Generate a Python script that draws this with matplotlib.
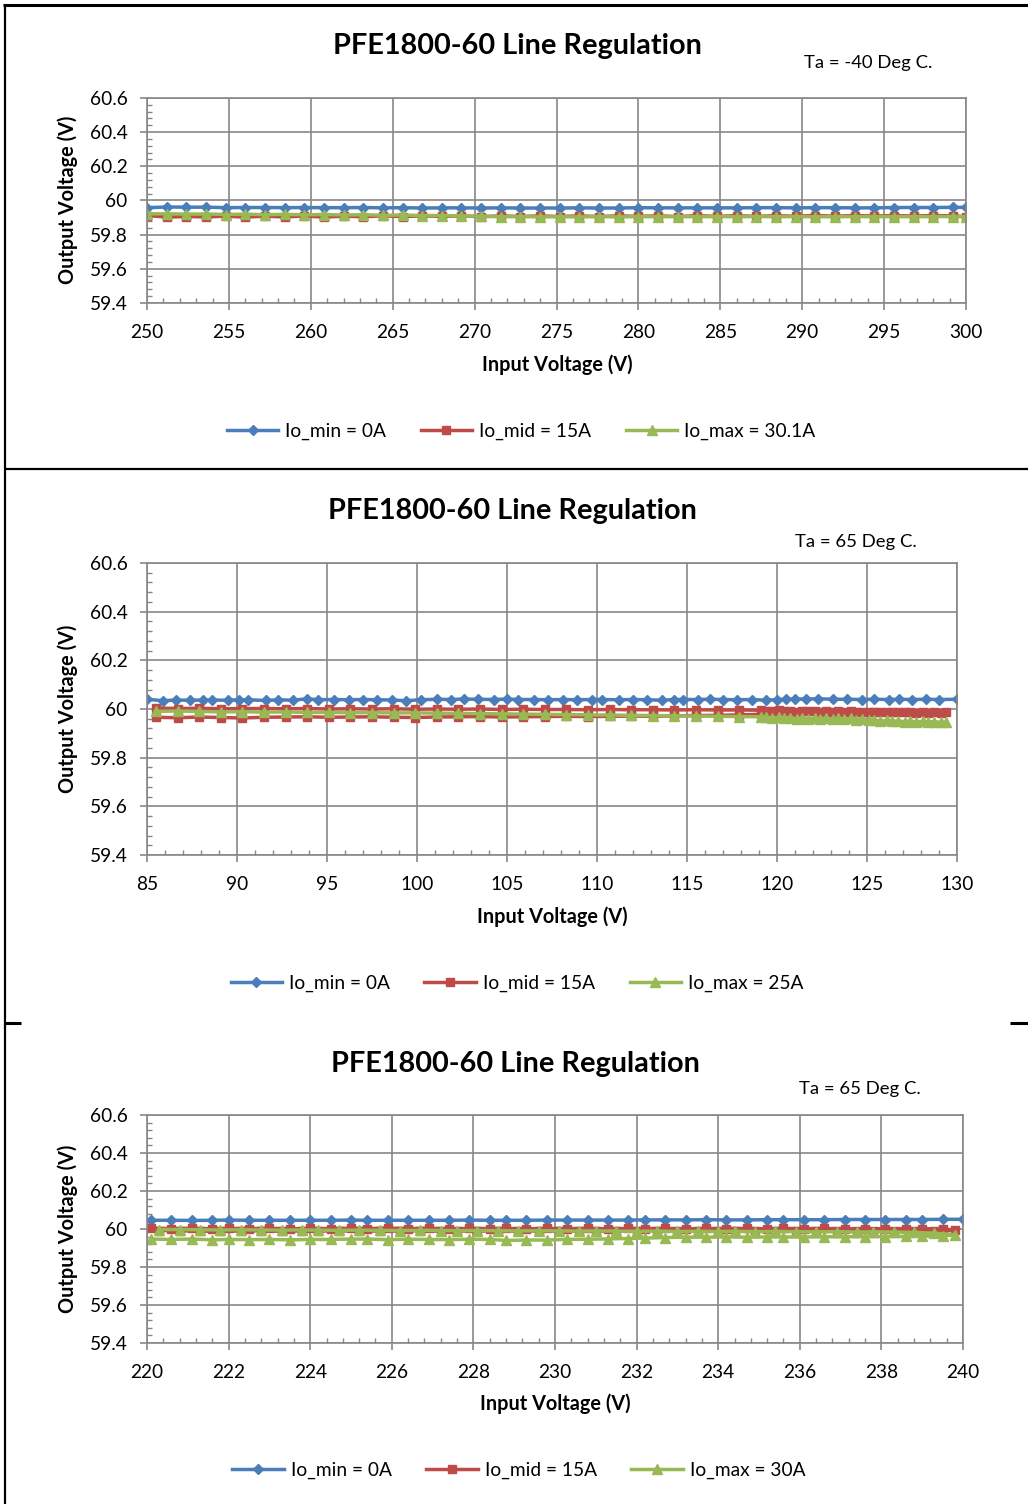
import matplotlib
matplotlib.use("Agg")
import matplotlib.pyplot as plt
from matplotlib.lines import Line2D
from matplotlib.ticker import MultipleLocator, FuncFormatter

plt.rcParams['font.family'] = ['Lato', 'DejaVu Sans']

# ---------------- data ----------------
titles = ["PFE1800-60 Line Regulation"] * 3
temps = ["Ta = -40 Deg C.", "Ta = 65 Deg C.", "Ta = 65 Deg C."]
legend_labels = [["Io_min = 0A", "Io_mid = 15A", "Io_max = 30.1A"],
                 ["Io_min = 0A", "Io_mid = 15A", "Io_max = 25A"],
                 ["Io_min = 0A", "Io_mid = 15A", "Io_max = 30A"]]
x_ticks = [[250, 255, 260, 265, 270, 275, 280, 285, 290, 295, 300],
           [85, 90, 95, 100, 105, 110, 115, 120, 125, 130],
           [220, 222, 224, 226, 228, 230, 232, 234, 236, 238, 240]]
y_ticks = [59.4, 59.6, 59.8, 60.0, 60.2, 60.4, 60.6]

# Panel 1 (Ta = -40 C)
x1 = [250.0, 251.2, 252.4, 253.6, 254.8, 256.0, 257.2, 258.4, 259.6, 260.8,
      262.0, 263.2, 264.4, 265.6, 266.8, 268.0, 269.2, 270.4, 271.6, 272.8,
      274.0, 275.2, 276.4, 277.6, 278.8, 280.0, 281.2, 282.4, 283.6, 284.8,
      286.0, 287.2, 288.4, 289.6, 290.8, 292.0, 293.2, 294.4, 295.6, 296.8,
      298.0, 299.2, 300.0]
blue1 = [59.958, 59.962, 59.961, 59.961, 59.958, 59.959, 59.959, 59.958, 59.959, 59.958,
         59.958, 59.959, 59.957, 59.958, 59.956, 59.957, 59.957, 59.956, 59.957, 59.956,
         59.956, 59.956, 59.957, 59.956, 59.956, 59.958, 59.957, 59.957, 59.957, 59.957,
         59.957, 59.958, 59.958, 59.957, 59.958, 59.958, 59.957, 59.957, 59.959, 59.959,
         59.959, 59.960, 59.960]
red1 = [59.912, 59.903, 59.906, 59.904, 59.908, 59.903, 59.908, 59.904, 59.909, 59.903,
        59.908, 59.905, 59.910, 59.906, 59.910, 59.907, 59.910, 59.905, 59.910, 59.906,
        59.910, 59.906, 59.910, 59.906, 59.910, 59.907, 59.910, 59.906, 59.911, 59.907,
        59.911, 59.907, 59.911, 59.908, 59.912, 59.908, 59.912, 59.909, 59.912, 59.909,
        59.912, 59.910, 59.905]
green1 = [59.922, 59.922, 59.920, 59.921, 59.918, 59.920, 59.917, 59.919, 59.916, 59.918,
          59.915, 59.917, 59.913, 59.915, 59.912, 59.912, 59.910, 59.908, 59.905, 59.906,
          59.904, 59.905, 59.904, 59.906, 59.904, 59.906, 59.905, 59.906, 59.905, 59.906,
          59.905, 59.906, 59.905, 59.906, 59.905, 59.905, 59.906, 59.905, 59.906, 59.905,
          59.906, 59.906, 59.906]

# Panel 2 (Ta = 65 C, low line)
x2_blue = [85.0, 85.9, 86.6, 87.4, 88.1, 88.6, 89.5, 90.1, 90.6, 91.6,
           92.3, 93.1, 93.9, 94.5, 95.4, 96.2, 97.0, 97.8, 98.6, 99.4,
           100.2, 101.1, 101.9, 102.6, 103.4, 104.3, 105.0, 105.6, 106.5, 107.3,
           108.1, 108.9, 109.7, 110.3, 111.2, 112.0, 112.8, 113.6, 114.3, 114.8,
           115.6, 116.3, 117.0, 117.8, 118.6, 119.4, 120.0, 120.5, 121.0, 121.6,
           122.3, 123.1, 123.9, 124.7, 125.4, 126.2, 126.8, 127.5, 128.3, 129.0, 130.0]
blue2 = [60.040, 60.034, 60.037, 60.036, 60.037, 60.037, 60.036, 60.038, 60.038, 60.035,
         60.038, 60.036, 60.042, 60.038, 60.039, 60.038, 60.039, 60.038, 60.037, 60.034,
         60.038, 60.040, 60.039, 60.041, 60.040, 60.039, 60.041, 60.039, 60.039, 60.038,
         60.039, 60.038, 60.039, 60.039, 60.038, 60.039, 60.038, 60.036, 60.039, 60.039,
         60.039, 60.040, 60.039, 60.038, 60.039, 60.036, 60.039, 60.040, 60.041, 60.041,
         60.042, 60.040, 60.040, 60.039, 60.040, 60.039, 60.040, 60.039, 60.040, 60.039, 60.040]
x2_coarse = [85.5, 86.7, 87.9, 89.1, 90.3, 91.5, 92.7, 93.9, 95.1, 96.3,
             97.5, 98.7, 99.9, 101.1, 102.3, 103.5, 104.7, 105.9, 107.1, 108.3,
             109.5, 110.7, 111.9, 113.1, 114.3, 115.5, 116.7, 117.9, 119.1]
x2_dense = [119.4, 119.7, 120.1, 120.4, 120.7, 121.1, 121.4, 121.7, 122.1, 122.4,
            122.7, 123.1, 123.4, 123.7, 124.1, 124.4, 124.7, 125.1, 125.4, 125.7,
            126.1, 126.4, 126.7, 127.1, 127.4, 127.7, 128.1, 128.4, 128.7, 129.1, 129.4]
red2_up = [60.004, 60.002, 60.003, 60.001, 60.002, 60.002, 60.001, 60.002, 60.000, 60.001,
           60.000, 60.001, 59.999, 60.000, 59.999, 60.000, 59.998, 59.999, 59.998, 59.998,
           59.997, 59.998, 59.997, 59.997, 59.996, 59.997, 59.996, 59.996, 59.995]
red2_dense = [59.993, 59.991, 59.994, 59.990, 59.992, 59.989, 59.992, 59.990, 59.991, 59.988,
              59.991, 59.989, 59.990, 59.988, 59.990, 59.988, 59.989, 59.987, 59.989, 59.987,
              59.988, 59.986, 59.988, 59.986, 59.987, 59.985, 59.987, 59.985, 59.986, 59.985, 59.986]
red2_low = [59.966, 59.964, 59.967, 59.965, 59.963, 59.966, 59.967, 59.968, 59.966, 59.967,
            59.968, 59.966, 59.965, 59.967, 59.968, 59.969, 59.967, 59.968, 59.969, 59.970,
            59.969, 59.970, 59.971, 59.970, 59.972, 59.973, 59.974, 59.976, 59.978]
green2_up = [59.990, 59.992, 59.990, 59.988, 59.989, 59.987, 59.988, 59.986, 59.986, 59.985,
             59.985, 59.984, 59.984, 59.983, 59.982, 59.981, 59.980, 59.979, 59.978, 59.977,
             59.976, 59.975, 59.974, 59.973, 59.972, 59.971, 59.970, 59.969, 59.968]
green2_dense = [59.967, 59.962, 59.966, 59.961, 59.965, 59.960, 59.964, 59.960, 59.963, 59.959,
                59.963, 59.958, 59.962, 59.957, 59.961, 59.956, 59.958, 59.953, 59.955, 59.951,
                59.953, 59.949, 59.951, 59.948, 59.950, 59.947, 59.949, 59.946, 59.948, 59.945, 59.945]

# Panel 3 (Ta = 65 C, high line)
x3 = [220.1, 220.6, 221.1, 221.6, 222.0, 222.5, 223.0, 223.5, 224.0, 224.5,
      225.0, 225.4, 225.9, 226.4, 226.9, 227.4, 227.9, 228.4, 228.8, 229.3,
      229.8, 230.3, 230.8, 231.3, 231.8, 232.2, 232.7, 233.2, 233.7, 234.2,
      234.7, 235.2, 235.6, 236.1, 236.6, 237.1, 237.6, 238.1, 238.6, 239.0, 239.5]
x3_blue = x3 + [240.0]
x3_back = [239.8, 239.3, 238.8, 238.3, 237.8, 237.4, 236.9, 236.4, 235.9, 235.4,
           234.9, 234.4, 234.0, 233.5, 233.0, 232.5, 232.0, 231.5, 231.0, 230.6,
           230.1, 229.6, 229.1, 228.6, 228.1, 227.6, 227.2, 226.7, 226.2, 225.7,
           225.2, 224.7, 224.2, 223.8, 223.3, 222.8, 222.3, 221.8, 221.3, 220.8, 220.3]
blue3 = [60.046, 60.046, 60.045, 60.046, 60.047, 60.046, 60.046, 60.046, 60.046, 60.046,
         60.047, 60.046, 60.046, 60.046, 60.046, 60.046, 60.047, 60.046, 60.046, 60.046,
         60.047, 60.047, 60.047, 60.047, 60.047, 60.048, 60.048, 60.048, 60.049, 60.048,
         60.048, 60.049, 60.049, 60.049, 60.049, 60.050, 60.050, 60.050, 60.050, 60.050,
         60.051, 60.051]
red3_up = [60.004, 60.002, 60.004, 60.001, 60.003, 60.002, 60.004, 60.001, 60.003, 60.002,
           60.004, 60.002, 60.005, 60.002, 60.004, 60.001, 60.003, 60.002, 60.003, 60.001,
           60.003, 60.002, 60.003, 60.001, 60.003, 60.002, 60.003, 60.001, 60.003, 60.002,
           60.003, 60.001, 60.003, 60.002, 60.003, 60.001, 60.002, 60.001, 60.002, 60.001, 60.002]
red3_back = [59.993, 59.990, 59.988, 59.991, 59.989, 59.990, 59.988, 59.991, 59.989, 59.990,
             59.988, 59.991, 59.989, 59.990, 59.988, 59.991, 59.989, 59.990, 59.988, 59.991,
             59.989, 59.990, 59.988, 59.991, 59.989, 59.990, 59.988, 59.991, 59.989, 59.990,
             59.988, 59.991, 59.989, 59.990, 59.988, 59.991, 59.989, 59.990, 59.988, 59.991, 59.992]
green3_up = [59.947, 59.945, 59.947, 59.943, 59.945, 59.944, 59.945, 59.943, 59.945, 59.945,
             59.947, 59.947, 59.944, 59.946, 59.945, 59.944, 59.946, 59.945, 59.940, 59.942,
             59.942, 59.945, 59.946, 59.948, 59.950, 59.952, 59.955, 59.957, 59.957, 59.958,
             59.957, 59.958, 59.958, 59.958, 59.959, 59.959, 59.960, 59.960, 59.961, 59.962, 59.963]
green3_back = [59.970, 59.978, 59.982, 59.984, 59.985, 59.984, 59.986, 59.985, 59.986, 59.987,
               59.986, 59.988, 59.987, 59.988, 59.987, 59.989, 59.988, 59.989, 59.990, 59.989,
               59.990, 59.991, 59.990, 59.991, 59.992, 59.991, 59.992, 59.993, 59.992, 59.993,
               59.994, 59.993, 59.994, 59.995, 59.994, 59.995, 59.996, 59.995, 59.996, 59.997, 59.997]

# ---------------- styling ----------------
W, H = 1028, 1504
BLUE, RED, GREEN = "#4A7EBB", "#BE4B48", "#98B954"
GRID = "#878787"
sty = {
    "blue": dict(color=BLUE, marker="D", markersize=5.3, lw=2.5),
    "red": dict(color=RED, marker="s", markersize=6.0, lw=2.5),
    "green": dict(color=GREEN, marker="^", markersize=6.8, lw=2.5),
}

fig = plt.figure(figsize=(W / 100, H / 100), dpi=100)


def fx(x):
    return x / W


def fy(y):
    return 1 - y / H


def make_axes(left, top, right, bottom):
    return fig.add_axes([fx(left), fy(bottom), (right - left) / W, (bottom - top) / H])


panels = [
    dict(box=(147, 98, 966, 303), xlim=(250, 300), xminor=1,
         title=(517, 46), temp=(868, 63), xlabel=(557, 365), ylabel=(68, 200), legend=(521, 431)),
    dict(box=(147, 563, 957, 855), xlim=(85, 130), xminor=1,
         title=(512, 511), temp=(856, 542), xlabel=(552, 917), ylabel=(68, 709), legend=(517, 983)),
    dict(box=(147, 1115, 963, 1343), xlim=(220, 240), xminor=0.4,
         title=(515, 1064), temp=(860, 1089), xlabel=(555, 1404), ylabel=(68, 1229), legend=(519, 1470)),
]

axes = []
for i, p in enumerate(panels):
    ax = make_axes(*p["box"])
    axes.append(ax)
    ax.set_xlim(*p["xlim"])
    ax.set_ylim(59.4, 60.6)
    ax.set_xticks(x_ticks[i])
    ax.set_yticks(y_ticks)
    ax.xaxis.set_minor_locator(MultipleLocator(p["xminor"]))
    ax.yaxis.set_minor_locator(MultipleLocator(0.04))
    ax.yaxis.set_major_formatter(FuncFormatter(lambda v, pos: f"{v:g}"))
    ax.xaxis.set_major_formatter(FuncFormatter(lambda v, pos: f"{v:g}"))
    ax.grid(True, which="major", color=GRID, lw=1.2)
    ax.set_axisbelow(True)
    for s in ax.spines.values():
        s.set_color(GRID)
        s.set_linewidth(1.2)
    ax.tick_params(which="major", direction="out", length=5, width=1.2, color=GRID,
                   labelsize=13.8, pad=9, labelcolor="black")
    ax.tick_params(which="minor", direction="in", length=3.5, width=1.0, color=GRID)
    ax.tick_params(axis="x", which="major", pad=10)
    tx, ty = p["title"]
    fig.text(fx(tx), fy(ty), titles[i], ha="center", va="center", fontsize=20.8, fontweight="bold")
    tx, ty = p["temp"]
    fig.text(fx(tx), fy(ty), temps[i], ha="center", va="center", fontsize=13.3)
    tx, ty = p["xlabel"]
    fig.text(fx(tx), fy(ty), "Input Voltage (V)", ha="center", va="center", fontsize=14.3, fontweight="bold")
    tx, ty = p["ylabel"]
    fig.text(fx(tx), fy(ty), "Output Voltage (V)", ha="center", va="center", rotation=90,
             fontsize=14.3, fontweight="bold")

# Panel 1 lines
a = axes[0]
a.plot(x1, blue1, **sty["blue"])
a.plot(x1, red1, **sty["red"])
a.plot(x1, green1, **sty["green"])

# Panel 2 lines
a = axes[1]
a.plot(x2_blue, blue2, **sty["blue"])
a.plot(x2_coarse + x2_dense, red2_up + red2_dense, **sty["red"])
a.plot(x2_coarse, red2_low, **sty["red"])
a.plot(x2_coarse + x2_dense, green2_up + green2_dense, **sty["green"])

# Panel 3 lines
a = axes[2]
a.plot(x3_blue, blue3, **sty["blue"])
a.plot(x3 + x3_back, red3_up + red3_back, **sty["red"])
a.plot(x3 + x3_back, green3_up + green3_back, **sty["green"])

# Legends
for i, p in enumerate(panels):
    handles = [Line2D([], [], **sty["blue"]), Line2D([], [], **sty["red"]), Line2D([], [], **sty["green"])]
    lx, ly = p["legend"]
    fig.legend(handles, legend_labels[i], loc="center", bbox_to_anchor=(fx(lx), fy(ly)), ncol=3,
               frameon=False, fontsize=13.8, handlelength=2.7, handletextpad=0.35, columnspacing=1.8,
               borderaxespad=0, borderpad=0)

# Frame lines (figure borders)
def fline(x0, y0, x1_, y1, lw):
    fig.add_artist(Line2D([fx(x0), fx(x1_)], [fy(y0), fy(y1)], transform=fig.transFigure,
                          color="black", lw=lw, solid_capstyle="butt"))

fline(3, 4.5, 1028, 4.5, 2.2)
fline(5, 4, 5, 1504, 1.6)
fline(5, 469, 1028, 469, 1.6)
fline(5, 1023, 21, 1023, 2.2)
fline(1010, 1023, 1028, 1023, 2.2)

fig.savefig("out.png", dpi=100)
